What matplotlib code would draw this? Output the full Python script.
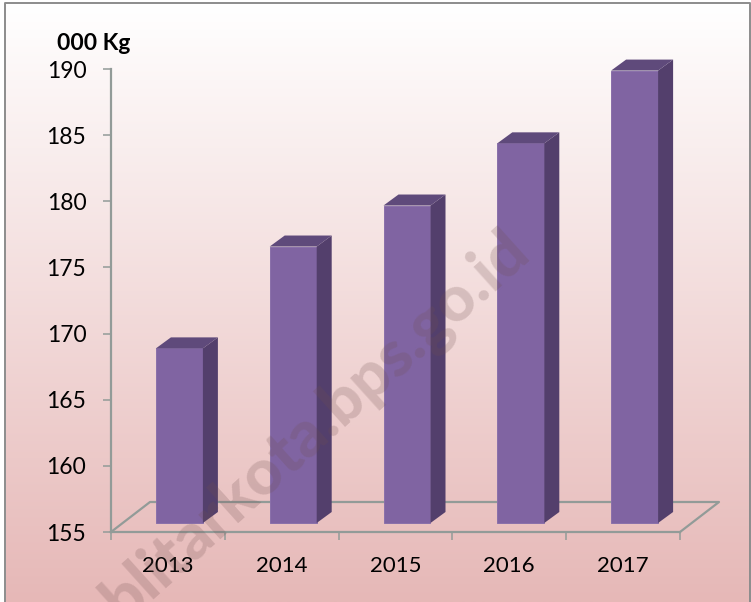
import numpy as np
import matplotlib
matplotlib.use('Agg')
from matplotlib import pyplot as plt
from matplotlib.transforms import IdentityTransform
from matplotlib.patches import Rectangle

years = ['2013', '2014', '2015', '2016', '2017']
values = [168.2, 175.9, 179.0, 183.7, 189.2]
yticks = [155, 160, 165, 170, 175, 180, 185, 190]

W, H = 751, 602
plt.rcParams['font.family'] = ['Lato', 'DejaVu Sans']

fig = plt.figure(figsize=(W / 100, H / 100), dpi=100)

# page background with the grey frame
bg = fig.add_axes([0, 0, 1, 1])
bg.axis('off')
top = np.array([255, 255, 255]) / 255
bot = np.array([230, 184, 183]) / 255
t = np.linspace(0, 1, 300)[:, None, None]
grad = top * (1 - t) + bot * t
bg.imshow(grad, extent=[6, 750, 602, 4], aspect='auto', zorder=1)
bg.set_xlim(0, W)
bg.set_ylim(H, 0)
bg.plot([5, 5, 749.5, 749.5], [602, 3, 3, 602], color='#8c8c8c', lw=1.4, zorder=2)

ax = fig.add_axes([111 / W, 1 - 532 / H, (680 - 111) / W, (532 - 69) / H])
ax.patch.set_alpha(0)
ax.set_xlim(-0.5, 4.5)
ax.set_ylim(155, 190)

grey = '#929b98'
for s in ['top', 'right']:
    ax.spines[s].set_visible(False)
for s in ['left', 'bottom']:
    ax.spines[s].set_color(grey)
    ax.spines[s].set_linewidth(1.6)

ax.set_yticks(yticks)
ax.set_xticks(np.arange(-0.5, 5, 1))
ax.set_xticklabels([])
ax.tick_params(axis='both', length=5.8, width=1.1, color=grey)
ax.tick_params(axis='y', labelsize=16.5, pad=12, labelcolor='black')

# year labels sit between the ticks
for i, y in enumerate(years):
    ax.annotate(y, (i, 155), xytext=(0, -34), textcoords='offset pixels',
                ha='center', va='center', fontsize=16, color='black')

ax.annotate('000 Kg', (-0.5, 190), xytext=(19, 26), textcoords='offset pixels',
            fontsize=16.5, fontweight='bold', ha='right', va='center', color='black')

# floor of the 3d box
x0, x1 = ax.get_xlim()
a = ax.transData.transform((x0, 155))
b = ax.transData.transform((x1, 155))
floor_dx, floor_dy = 39, 30
ax.plot([a[0], a[0] + floor_dx, b[0] + floor_dx, b[0]],
        [a[1], a[1] + floor_dy, b[1] + floor_dy, b[1]],
        transform=IdentityTransform(), color=grey, lw=1.6, clip_on=False, zorder=1)

# 3d bars
bar_w = 0.413
front_dx, front_dy = 11.5, 9
side_dx, side_dy = 15, 11
for i, v in enumerate(values):
    p0 = ax.transData.transform((i - bar_w / 2, 155)) + (front_dx, front_dy)
    p1 = ax.transData.transform((i + bar_w / 2, v)) + (front_dx, front_dy)
    xl, yb = p0
    xr, yt = p1
    ax.add_patch(Rectangle((xl, yb), xr - xl, yt - yb, transform=IdentityTransform(),
                           facecolor='#8064a2', edgecolor='#8a70aa', lw=0.7, clip_on=False, zorder=3))
    ax.fill([xr, xr + side_dx, xr + side_dx, xr], [yb, yb + side_dy, yt + side_dy, yt],
            transform=IdentityTransform(), color='#533f6c', lw=0, clip_on=False, zorder=3)
    ax.fill([xl, xl + side_dx, xr + side_dx, xr], [yt, yt + side_dy, yt + side_dy, yt],
            transform=IdentityTransform(), color='#5f4a7b', lw=0, clip_on=False, zorder=3)

# watermark
fig.text(316 / W, 1 - 426 / H, 'blitarkota.bps.go.id', fontsize=46, fontweight=900,
         rotation=42, rotation_mode='anchor', ha='center', va='center',
         color='#705050', alpha=0.22, zorder=10)

fig.savefig('out.png', dpi=100)
